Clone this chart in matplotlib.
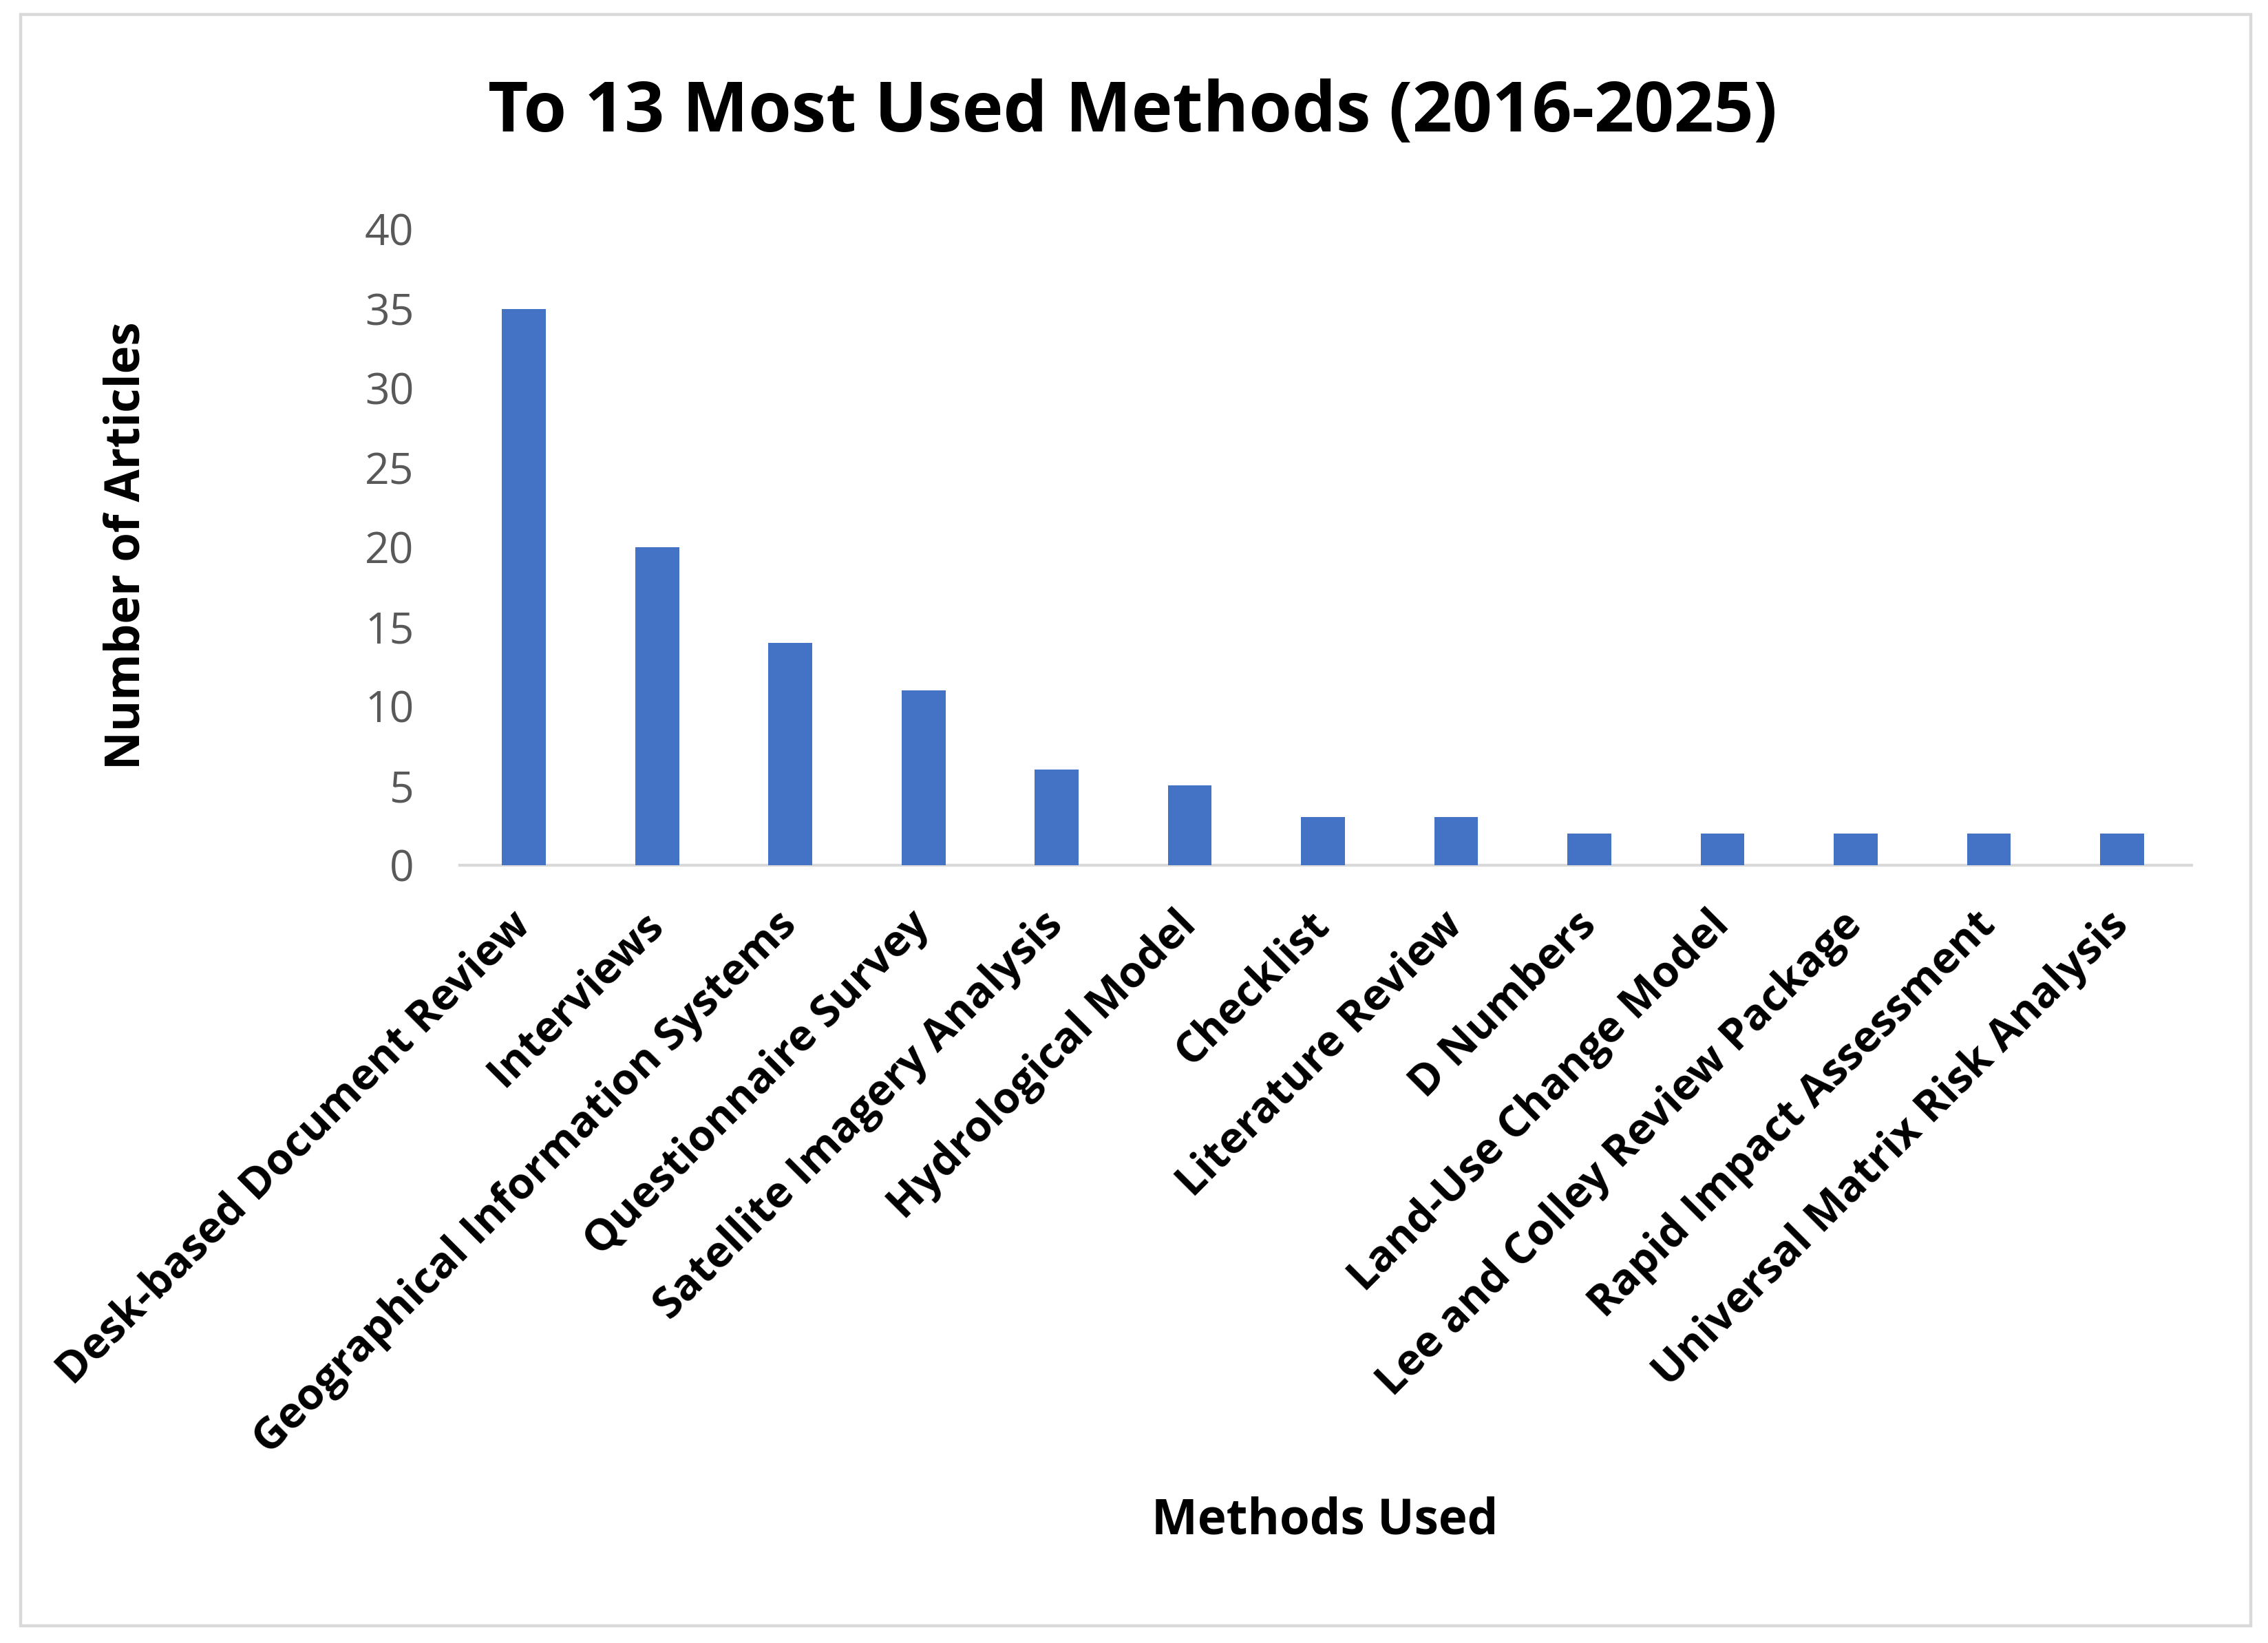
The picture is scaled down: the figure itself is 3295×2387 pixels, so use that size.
import numpy as np
import matplotlib
matplotlib.use("Agg")
import matplotlib.pyplot as plt
from matplotlib.patches import Rectangle

# chart data
methods = [
    "Desk-based Document Review",
    "Interviews",
    "Geographical Information Systems",
    "Questionnaire Survey",
    "Satellite Imagery Analysis",
    "Hydrological Model",
    "Checklist",
    "Literature Review",
    "D Numbers",
    "Land-Use Change Model",
    "Lee and Colley Review Package",
    "Rapid Impact Assessment",
    "Universal Matrix Risk Analysis",
]
articles = [35, 20, 14, 11, 6, 5, 3, 3, 2, 2, 2, 2, 2]
yticks = [0, 5, 10, 15, 20, 25, 30, 35, 40]

plt.rcParams['font.family'] = ['Open Sans', 'DejaVu Sans']

fig = plt.figure(figsize=(16.475, 11.935), dpi=200, facecolor="white")

# light grey frame round the chart
fig.patches.append(Rectangle((0.009, 0.0106), 0.9833, 0.9806, transform=fig.transFigure,
                             fill=False, edgecolor="#D9D9D9", linewidth=1.6))

ax = fig.add_axes([0.2028, 0.4735, 0.7634, 0.3869])
x = np.arange(len(methods))
ax.bar(x, articles, width=0.33, color="#4472C4", zorder=3)

ax.set_xlim(-0.48, len(methods) - 0.48)
ax.set_ylim(0, 40)
ax.set_yticks(yticks)
ax.set_yticklabels([str(t) for t in yticks], fontsize=22.5, color="#595959")
ax.set_xticks(x)
ax.set_xticklabels(methods, rotation=45, ha="right", va="center",
                   rotation_mode="anchor", fontsize=22.7, fontweight="bold", color="black")
ax.tick_params(axis="x", length=0, pad=28)
ax.tick_params(axis="y", length=0, pad=24)

for s in ["top", "right", "left"]:
    ax.spines[s].set_visible(False)
ax.spines["bottom"].set_color("#D9D9D9")
ax.spines["bottom"].set_linewidth(1.5)

fig.text(0.4994, 0.931, "To 13 Most Used Methods (2016-2025)", ha="center", va="center",
         fontsize=36.5, fontweight="bold")
fig.text(0.0561, 0.668, "Number of Articles", rotation=90, ha="center", va="center",
         fontsize=24.8, fontweight="bold")
fig.text(0.584, 0.0742, "Methods Used", ha="center", va="center",
         fontsize=25.5, fontweight="bold")

fig.savefig("out.png", dpi=200, facecolor="white")
